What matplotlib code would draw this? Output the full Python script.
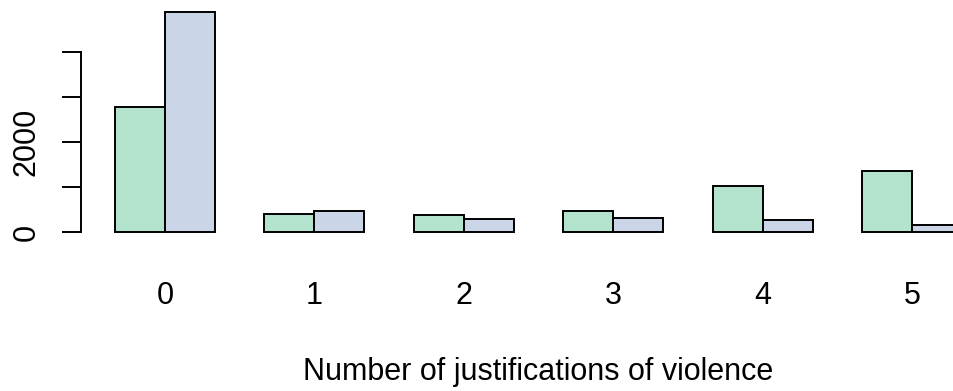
import numpy as np
import matplotlib.pyplot as plt

plt.rcParams['font.family'] = ['Liberation Sans', 'DejaVu Sans']

# Counts per number of justifications, two groups side by side
justifications = ['0', '1', '2', '3', '4', '5']
group_a = [2775, 412, 390, 478, 1032, 1364]
group_b = [4879, 472, 295, 310, 266, 168]
y_ticks = [0, 1000, 2000, 3000, 4000]
y_labels = ['0', '', '2000', '', '']
colors = ['#B3E2CD', '#CBD5E8']

fig = plt.figure(figsize=(9.54, 3.91), dpi=100)
ax = fig.add_axes([0, 0, 1, 1])

# barplot layout: each group is two unit-width bars with a unit gap before it
n = len(justifications)
starts = 1 + 3 * np.arange(n)
ax.bar(starts + 0.5, group_a, width=1, color=colors[0], edgecolor='black', linewidth=1.4)
ax.bar(starts + 1.5, group_b, width=1, color=colors[1], edgecolor='black', linewidth=1.4)

# pixel-matched data limits
unit = 49.83
per_k = 45.15
zero_px = 232.3
def px_x(p):
    return 1 + (p - 115) / unit
def px_y(p):
    return (zero_px - p) / per_k * 1000

ax.set_xlim(px_x(0), px_x(954))
ax.set_ylim(px_y(391), px_y(0))

for s in ['top', 'right', 'bottom']:
    ax.spines[s].set_visible(False)
ax.spines['left'].set_position(('data', px_x(80.7)))
ax.spines['left'].set_bounds(y_ticks[0], y_ticks[-1])
ax.spines['left'].set_linewidth(1.4)
ax.set_yticks(y_ticks)
ax.set_yticklabels([])
ax.tick_params(axis='y', length=13.7, width=1.4)
for v, lab in zip(y_ticks, y_labels):
    ax.text(px_x(35), v, lab, rotation=90, rotation_mode='anchor',
            ha='center', va='baseline', fontsize=22)

ax.set_xticks([])
for x, lab in zip(starts + 1, justifications):
    ax.text(x, px_y(304.3), lab, ha='center', va='baseline', fontsize=22)

ax.text(np.mean(starts + 1), px_y(380), 'Number of justifications of violence',
        ha='center', va='baseline', fontsize=22)

fig.savefig('out.png', dpi=100)
